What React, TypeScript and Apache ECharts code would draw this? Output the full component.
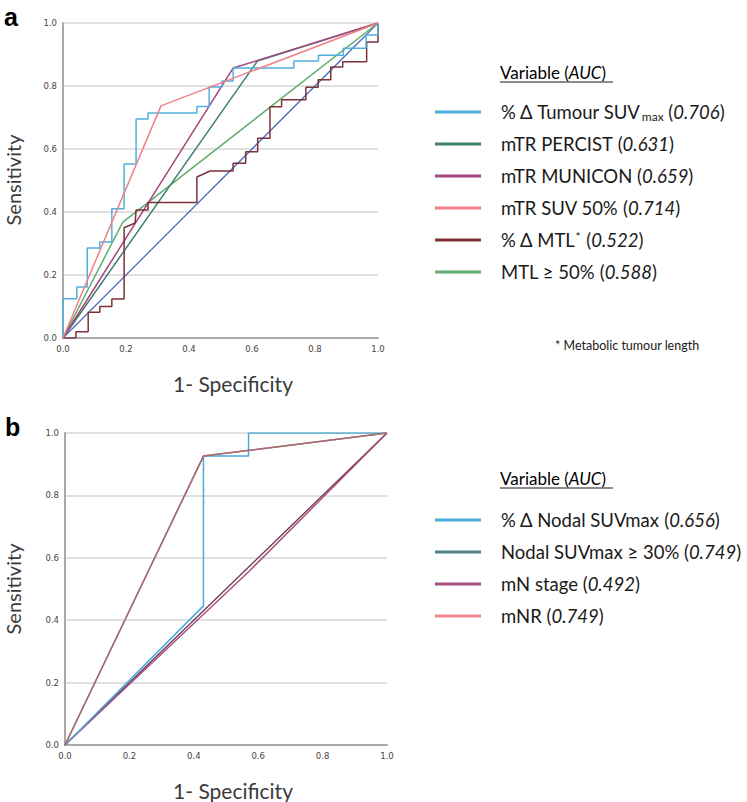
import React, { useEffect, useRef } from "react";
import * as echarts from "echarts";

// ---------- Panel a data (x = 1 - specificity, y = sensitivity) ----------
const tumourSuvA: number[][] = [
  [0, 0], [0, 0.125], [0.044, 0.125], [0.044, 0.162], [0.077, 0.162], [0.077, 0.286],
  [0.117, 0.286], [0.117, 0.305], [0.155, 0.305], [0.155, 0.41], [0.194, 0.41],
  [0.194, 0.552], [0.232, 0.552], [0.232, 0.695], [0.27, 0.695], [0.27, 0.714],
  [0.425, 0.714], [0.425, 0.735], [0.464, 0.735], [0.464, 0.797], [0.505, 0.797],
  [0.505, 0.816], [0.54, 0.816], [0.54, 0.857], [0.733, 0.857], [0.733, 0.879],
  [0.811, 0.879], [0.811, 0.898], [0.89, 0.898], [0.89, 0.92], [0.962, 0.92],
  [0.962, 0.962], [1, 0.962], [1, 1],
];
const percistA: number[][] = [[0, 0], [0.617, 0.879], [1, 1]];
const municonA: number[][] = [[0, 0], [0.54, 0.857], [1, 1]];
const suv50A: number[][] = [[0, 0], [0.311, 0.737], [1, 1]];
const mtlDeltaA: number[][] = [
  [0, 0], [0.041, 0], [0.041, 0.02], [0.08, 0.02], [0.08, 0.082], [0.117, 0.082],
  [0.117, 0.1], [0.155, 0.1], [0.155, 0.124], [0.194, 0.124], [0.194, 0.35],
  [0.229, 0.365], [0.232, 0.406], [0.27, 0.406], [0.27, 0.43], [0.425, 0.43],
  [0.425, 0.511], [0.467, 0.53], [0.54, 0.53], [0.54, 0.555], [0.58, 0.555],
  [0.58, 0.591], [0.618, 0.591], [0.618, 0.634], [0.657, 0.634], [0.657, 0.734],
  [0.694, 0.734], [0.694, 0.756], [0.771, 0.756], [0.771, 0.796], [0.81, 0.796],
  [0.81, 0.82], [0.85, 0.82], [0.85, 0.86], [0.888, 0.86], [0.888, 0.877],
  [0.964, 0.877], [0.964, 0.94], [1, 0.94], [1, 1],
];
const mtl50A: number[][] = [[0, 0], [0.19, 0.368], [1, 1]];
const referenceLine: number[][] = [[0, 0], [1, 1]];

// ---------- Panel b data ----------
const nodalSuvB: number[][] = [
  [0, 0], [0.43, 0.446], [0.43, 0.926], [0.57, 0.926], [0.57, 1], [1, 1],
];
const nodal30B: number[][] = [[0, 0], [0.43, 0.926], [1, 1]];
const mnStageB: number[][] = [[0, 0], [0.571, 0.556], [1, 1]];
const mnrB: number[][] = [[0, 0], [0.43, 0.926], [1, 1]];

// ---------- Legend labels ----------
const namesA = ["% Δ Tumour SUVmax", "mTR PERCIST", "mTR MUNICON", "mTR SUV 50%", "% Δ MTL", "MTL ≥ 50%"];
const aucA = ["0.706", "0.631", "0.659", "0.714", "0.522", "0.588"];
const namesB = ["% Δ Nodal SUVmax", "Nodal SUVmax ≥ 30%", "mN stage", "mNR"];
const aucB = ["0.656", "0.749", "0.492", "0.749"];
const tickValues = [0, 0.2, 0.4, 0.6, 0.8, 1.0];

const colorsA = ["#4fb0de", "#3d7f73", "#a3467c", "#f08088", "#7a3238", "#5fae6e"];
const colorsB = ["#4aaad8", "#4f8585", "#8b2a5a", "#f08a90"];

const FONT = "Lato";
const LFS = 18.5;

function richLabel(name: string, auc: string): string {
  let head: string;
  if (name === "% Δ Tumour SUVmax") head = "{n|% Δ Tumour SUV}{s|max}";
  else if (name === "% Δ MTL") head = "{n|% Δ MTL}{sup|*}";
  else head = "{n|" + name + "}";
  return head + "{n| (}{i|" + auc + "}{n|)}";
}

const richStyles = {
  n: { fontFamily: FONT, fontSize: LFS, color: "#1a1a1a", lineHeight: 22 },
  i: { fontFamily: FONT, fontSize: LFS, color: "#1a1a1a", fontStyle: "italic", lineHeight: 22 },
  s: { fontFamily: FONT, fontSize: 12, color: "#1a1a1a", lineHeight: 22, padding: [9, 0, 0, 1] },
  sup: { fontFamily: FONT, fontSize: 12, color: "#1a1a1a", lineHeight: 22, padding: [0, 1, 8, 0] },
};

const headRich = {
  n: { fontFamily: FONT, fontSize: 17, color: "#1a1a1a" },
  i: { fontFamily: FONT, fontSize: 17, color: "#1a1a1a", fontStyle: "italic" },
};

function axisCommon(gridIndex: number) {
  return {
    type: "value" as const,
    gridIndex,
    min: 0,
    max: 1,
    interval: 0.2,
    axisLine: { show: true, lineStyle: { color: "#a9a9a9", width: 2 } },
    axisTick: { show: false },
    axisLabel: {
      fontFamily: "DejaVu Sans",
      fontSize: 8.5,
      color: "#444",
      margin: 6,
      formatter: (v: number) => v.toFixed(1),
      customValues: tickValues,
    },
  };
}

function lineSeries(name: string, data: number[][], color: string, idx: number, width = 1.5, z = 2) {
  return {
    type: "line" as const,
    name,
    data,
    xAxisIndex: idx,
    yAxisIndex: idx,
    color,
    symbol: "none",
    showSymbol: false,
    lineStyle: { width, color },
    z,
    silent: true,
  };
}

function legendFor(names: string[], aucs: string[], top: number) {
  return {
    data: names,
    orient: "vertical",
    left: 435,
    top,
    padding: 0,
    icon: "rect",
    itemWidth: 46,
    itemHeight: 3,
    itemGap: 10,
    selectedMode: false,
    formatter: (name: string) => richLabel(name, aucs[names.indexOf(name)]),
    textStyle: {
      fontFamily: FONT, fontSize: LFS, color: "#1a1a1a", lineHeight: 22,
      padding: [0, 0, 0, 15], rich: richStyles,
    },
  };
}

export default function App() {
  const ref = useRef<HTMLDivElement>(null);

  useEffect(() => {
    const chart = echarts.init(ref.current!, null, { renderer: "svg" });
    const option = {
      animation: false,
      backgroundColor: "#ffffff",
      grid: [
        { left: 63, top: 23, width: 315, height: 315 },
        { left: 65, top: 433, width: 322, height: 312 },
      ],
      xAxis: [
        { ...axisCommon(0), splitLine: { show: false } },
        { ...axisCommon(1), splitLine: { show: false } },
      ],
      yAxis: [
        { ...axisCommon(0), splitLine: { show: true, lineStyle: { color: "#d6d6d6", width: 1.5 } } },
        { ...axisCommon(1), splitLine: { show: true, lineStyle: { color: "#d6d6d6", width: 1.5 } } },
      ],
      legend: [legendFor(namesA, aucA, 101), legendFor(namesB, aucB, 509)],
      graphic: [
        { type: "text", left: 4, top: 4, style: { text: "a", fontFamily: "Liberation Sans", fontWeight: "bold", fontSize: 25, fill: "#000" } },
        { type: "text", left: 5, top: 414, style: { text: "b", fontFamily: "Liberation Sans", fontWeight: "bold", fontSize: 25, fill: "#000" } },
        {
          type: "text", x: 13, y: 180, rotation: Math.PI / 2,
          style: { text: "Sensitivity", fontFamily: FONT, fontSize: 20, fill: "#3a3a3a", align: "center", verticalAlign: "middle" },
        },
        {
          type: "text", x: 13, y: 589, rotation: Math.PI / 2,
          style: { text: "Sensitivity", fontFamily: FONT, fontSize: 20, fill: "#3a3a3a", align: "center", verticalAlign: "middle" },
        },
        {
          type: "text", x: 233, y: 383,
          style: { text: "1- Specificity", fontFamily: FONT, fontSize: 21, fill: "#3a3a3a", align: "center", verticalAlign: "middle" },
        },
        {
          type: "text", x: 233, y: 790,
          style: { text: "1- Specificity", fontFamily: FONT, fontSize: 21, fill: "#3a3a3a", align: "center", verticalAlign: "middle" },
        },
        {
          type: "text", x: 500, y: 72,
          style: { text: "{n|Variable (}{i|AUC}{n|)}", align: "left", verticalAlign: "middle", rich: headRich },
        },
        { type: "line", shape: { x1: 500, y1: 82, x2: 613, y2: 82 }, style: { stroke: "#1a1a1a", lineWidth: 1.2 } },
        {
          type: "text", x: 500, y: 478,
          style: { text: "{n|Variable (}{i|AUC}{n|)}", align: "left", verticalAlign: "middle", rich: headRich },
        },
        { type: "line", shape: { x1: 500, y1: 488, x2: 613, y2: 488 }, style: { stroke: "#1a1a1a", lineWidth: 1.2 } },
        {
          type: "text", x: 555, y: 345,
          style: { text: "* Metabolic tumour length", fontFamily: FONT, fontSize: 12.5, fill: "#1a1a1a", align: "left", verticalAlign: "middle" },
        },
      ],
      series: [
        lineSeries("refA", referenceLine, "#4a6cc0", 0, 1.3, 1),
        lineSeries(namesA[5], mtl50A, colorsA[5], 0),
        lineSeries(namesA[1], percistA, colorsA[1], 0),
        lineSeries(namesA[2], municonA, colorsA[2], 0),
        lineSeries(namesA[4], mtlDeltaA, colorsA[4], 0),
        lineSeries(namesA[0], tumourSuvA, colorsA[0], 0),
        lineSeries(namesA[3], suv50A, colorsA[3], 0),
        lineSeries("refB", referenceLine, "#6b2d4a", 1, 1.3, 1),
        lineSeries(namesB[2], mnStageB, "#a8507e", 1),
        lineSeries(namesB[0], nodalSuvB, colorsB[0], 1),
        lineSeries(namesB[1], nodal30B, colorsB[1], 1),
        { ...lineSeries(namesB[3], mnrB, colorsB[3], 1), lineStyle: { width: 1.5, color: "#c8606a", opacity: 0.85 } },
      ],
    };
    chart.setOption(option as any);
    return () => chart.dispose();
  }, []);

  return (
    <div
      ref={ref}
      style={{ position: "absolute", left: 0, top: 0, width: 747, height: 802, background: "#fff" }}
    />
  );
}
